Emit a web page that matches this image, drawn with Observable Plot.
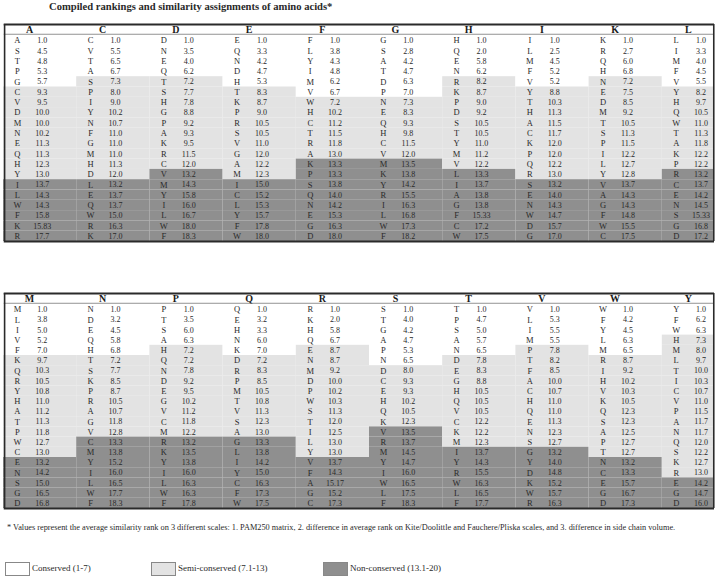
<!DOCTYPE html>
<html>
<head>
<meta charset="utf-8">
<script src="https://cdn.jsdelivr.net/npm/d3@7"></script>
<script src="https://cdn.jsdelivr.net/npm/@observablehq/plot@0.6"></script>
<style>
  html, body { margin: 0; padding: 0; background: #fff; }
  #page { position: relative; width: 716px; height: 581px; overflow: hidden; font-family: "Liberation Serif", serif; color: #2a2a2a; }
  #title { position: absolute; left: 49px; top: 1px; font-size: 10.6px; font-weight: bold; white-space: nowrap; }
  #t1 { position: absolute; left: 0; top: 22px; }
  #t2 { position: absolute; left: 0; top: 291px; }
  #note { position: absolute; left: 7px; top: 523px; font-size: 8.3px; white-space: nowrap; }
  #legend { position: absolute; left: 0; top: 562px; width: 716px; height: 16px; font-size: 9px; }
  .sw { position: absolute; top: 0; width: 25px; height: 14px; border: 1px solid #888; box-sizing: border-box; }
  .lt { position: absolute; top: 1px; white-space: nowrap; }
</style>
</head>
<body>
<div id="page">
  <div id="title">Compiled rankings and similarity assignments of amino acids*</div>
  <div id="t1"></div>
  <div id="t2"></div>
  <div id="note">* Values represent the average similarity rank on 3 different scales: 1. PAM250 matrix, 2. difference in average rank on Kite/Doolittle and Fauchere/Pliska scales, and 3. difference in side chain volume.</div>
  <div id="legend"></div>
</div>
<script>
// ---- Data: top table ----
const topHeaders = ["A","C","D","E","F","G","H","I","K","L"];
const aaA = "ASTPGCVDMNEQHYILWFKR"; const valA = [1.0,4.5,4.8,5.3,5.7,9.3,9.5,10.0,10.0,10.2,11.3,11.3,12.3,13.0,13.7,14.3,14.3,15.8,15.83,17.7];
const aaC = "CVTASPIYNFGMHDLEQWRK"; const valC = [1.0,5.5,6.5,6.7,7.3,8.0,9.0,10.2,10.7,11.0,11.0,11.0,11.3,12.0,13.2,13.7,13.7,15.0,16.3,17.0];
const aaD = "DNEQTSHGPAKRCVMYILWF"; const valD = [1.0,3.5,4.0,6.2,7.2,7.7,7.8,8.8,9.2,9.3,9.5,11.5,12.0,13.2,14.3,15.8,16.0,16.7,18.0,18.3];
const aaE = "EQNDHTKPRSVGAMICLYFW"; const valE = [1.0,3.3,4.2,4.7,5.3,8.3,8.7,9.0,10.5,10.5,11.0,12.0,12.2,12.3,15.0,15.2,15.3,15.7,17.8,18.0];
const aaF = "FLYIMVWHCTRAKPSQNEGD"; const valF = [1.0,3.8,4.3,4.8,6.2,6.7,7.2,10.2,11.2,11.5,11.8,13.0,13.3,13.3,13.8,14.0,14.2,15.3,16.3,18.0];
const aaG = "GSATDPNEQHCVMKYRILWF"; const valG = [1.0,2.8,4.2,4.7,6.3,7.0,7.3,8.3,9.3,9.8,11.5,12.0,13.5,13.8,14.2,15.5,16.3,16.8,17.3,18.2];
const aaH = "HQENRKPDSTYMVLIAGFCW"; const valH = [1.0,2.0,5.8,6.2,8.2,8.7,9.0,9.2,10.5,10.5,11.0,11.2,12.2,13.3,13.7,13.8,13.8,15.33,17.2,17.5];
const aaI = "ILMFVYTHACKPQRSENWDG"; const valI = [1.0,2.5,4.5,5.2,5.2,8.8,10.3,11.3,11.5,11.7,12.0,12.0,12.2,13.0,13.2,14.0,14.3,14.7,15.7,17.0];
const aaK = "KRQHNEDMTSPILYVAGFWC"; const valK = [1.0,2.7,6.0,6.8,7.2,7.5,8.5,9.2,10.5,11.3,11.5,12.2,12.7,12.8,13.7,14.3,14.3,14.8,15.5,17.5];
const aaL = "LIMFVYHQWTAKPRCENSGD"; const valL = [1.0,3.3,4.0,4.5,5.5,8.2,9.7,10.5,11.0,11.3,11.8,12.2,12.2,13.2,13.7,14.2,14.5,15.33,16.8,17.2];

// ---- Data: bottom table ----
const bottomHeaders = ["M","N","P","Q","R","S","T","V","W","Y"];
const aaM = "MLIVFKQRYHATPWCENSGD"; const valM = [1.0,3.8,5.0,5.2,7.0,9.7,10.3,10.5,10.8,11.0,11.2,11.3,11.8,12.7,13.0,13.2,14.2,15.0,16.5,16.8];
const aaN = "NDEQHTSKPRAGVCMYILWF"; const valN = [1.0,3.2,4.5,5.8,6.8,7.2,7.7,8.5,8.7,10.5,10.7,11.8,12.8,13.3,13.8,15.2,16.0,16.5,17.7,18.3];
const aaP = "PTSAHQNDEGVCMRKYILWF"; const valP = [1.0,3.5,6.0,6.3,7.2,7.2,7.8,9.2,9.5,10.2,11.2,11.8,12.2,13.2,13.5,13.8,16.0,16.3,16.3,17.8];
const aaQ = "QEHNKDRPMTVSAGLIYCFW"; const valQ = [1.0,3.2,3.3,6.0,7.0,7.2,8.3,8.5,10.5,10.8,11.3,12.3,13.0,13.3,13.8,14.2,15.0,16.3,17.3,17.5];
const aaR = "RKHQENMDPWSTILYVFAGC"; const valR = [1.0,2.0,5.8,6.7,8.7,8.7,9.2,10.0,10.2,10.3,11.3,12.0,12.5,13.0,13.0,13.7,14.3,15.17,15.2,17.3];
const aaS = "STGAPNDCEHQKVRMYIWLF"; const valS = [1.0,4.0,4.2,4.7,5.3,6.5,8.0,9.3,9.3,10.2,10.5,12.3,13.5,13.7,14.5,14.7,16.0,16.5,17.5,18.3];
const aaT = "TPSANDEGHQVCKMIYRWLF"; const valT = [1.0,4.7,5.0,5.7,6.5,7.8,8.3,8.8,10.5,10.5,10.5,12.2,12.2,12.3,13.7,14.3,15.5,16.3,16.5,17.7];
const aaV = "VLIMPTFACHQENSGYDKWR"; const valV = [1.0,5.3,5.5,5.5,7.8,8.2,8.5,10.0,10.7,11.0,11.0,11.3,12.3,12.7,13.2,14.0,14.8,15.2,15.7,16.3];
const aaW = "WFYLMRIHVKQSAPTNCEGD"; const valW = [1.0,4.2,4.5,6.3,6.5,8.7,9.2,10.2,10.3,10.5,12.3,12.3,12.5,12.7,12.7,13.2,13.3,15.7,16.7,17.3];
const aaY = "YFWHMLTICVPANQSKREGD"; const valY = [1.0,6.2,6.3,7.3,8.0,9.7,10.0,10.3,10.7,11.0,11.5,11.7,11.7,12.0,12.2,12.7,13.0,14.2,14.7,16.0];

const classNames = ["Conserved (1-7)", "Semi-conserved (7.1-13)", "Non-conserved (13.1-20)"];
const classColors = ["#ffffff", "#e3e3e3", "#8f8f8f"];

const topCols = [[aaA,valA],[aaC,valC],[aaD,valD],[aaE,valE],[aaF,valF],[aaG,valG],[aaH,valH],[aaI,valI],[aaK,valK],[aaL,valL]];
const bottomCols = [[aaM,valM],[aaN,valN],[aaP,valP],[aaQ,valQ],[aaR,valR],[aaS,valS],[aaT,valT],[aaV,valV],[aaW,valW],[aaY,valY]];

function cls(v) { return v <= 7 ? classNames[0] : v <= 13 ? classNames[1] : classNames[2]; }
function fmt(v) { return Math.abs(v * 10 - Math.round(v * 10)) < 1e-6 ? v.toFixed(1) : v.toFixed(2); }

function drawTable(headers, cols, rowH) {
  const unit = 73.2;
  const xmax = 711 / unit;
  const headH = 11 / rowH;
  const cells = [];
  headers.forEach((h, g) => {
    const [aa, vals] = cols[g];
    vals.forEach((v, r) => cells.push({g, r, aa: aa[r], v, c: cls(v)}));
  });
  const hdr = headers.map((h, g) => ({g, h}));
  return Plot.plot({
    width: 716,
    height: Math.round(11 + 20 * rowH + 4),
    marginLeft: 3, marginRight: 2, marginTop: 2, marginBottom: 2,
    x: {domain: [0, xmax], axis: null},
    y: {domain: [-headH, 20], reverse: true, axis: null},
    color: {type: "ordinal", domain: classNames, range: classColors},
    style: {fontFamily: "Liberation Serif, serif", background: "#fff"},
    marks: [
      Plot.rect(cells, {x1: d => d.g, x2: d => Math.min(d.g + 1, xmax), y1: d => d.r, y2: d => d.r + 1, fill: "c", inset: 0}),
      Plot.text(cells, {x: d => d.g + 0.19, y: d => d.r + 0.5, text: "aa", fontSize: 8.5, fill: "#2a2a2a"}),
      Plot.text(cells, {x: d => d.g + 0.53, y: d => d.r + 0.5, text: d => fmt(d.v), fontSize: 8, fill: "#2a2a2a"}),
      Plot.text(hdr, {x: d => d.g + 0.355, y: -headH / 2, text: "h", fontSize: 10, fontWeight: "bold", fill: "#1a1a1a"}),
      Plot.ruleY([-0.12], {x1: 0.01, x2: xmax, stroke: "#777", strokeWidth: 0.8}),
      Plot.ruleY([-headH, 20], {x1: 0.01, x2: xmax, stroke: "#2a2a2a", strokeWidth: 2}),
      Plot.ruleX([0.015, xmax - 0.01], {y1: -headH, y2: 20, stroke: "#2a2a2a", strokeWidth: 1.6})
    ]
  });
}

document.getElementById("t1").append(drawTable(topHeaders, topCols, 10.3));
document.getElementById("t2").append(drawTable(bottomHeaders, bottomCols, 10.2));

// legend
const legendX = [5, 151, 323];
const lg = document.getElementById("legend");
classNames.forEach((name, i) => {
  const sw = document.createElement("div");
  sw.className = "sw";
  sw.style.left = legendX[i] + "px";
  sw.style.background = classColors[i];
  lg.append(sw);
  const t = document.createElement("div");
  t.className = "lt";
  t.style.left = (legendX[i] + 27) + "px";
  t.textContent = name;
  lg.append(t);
});
</script>
</body>
</html>
